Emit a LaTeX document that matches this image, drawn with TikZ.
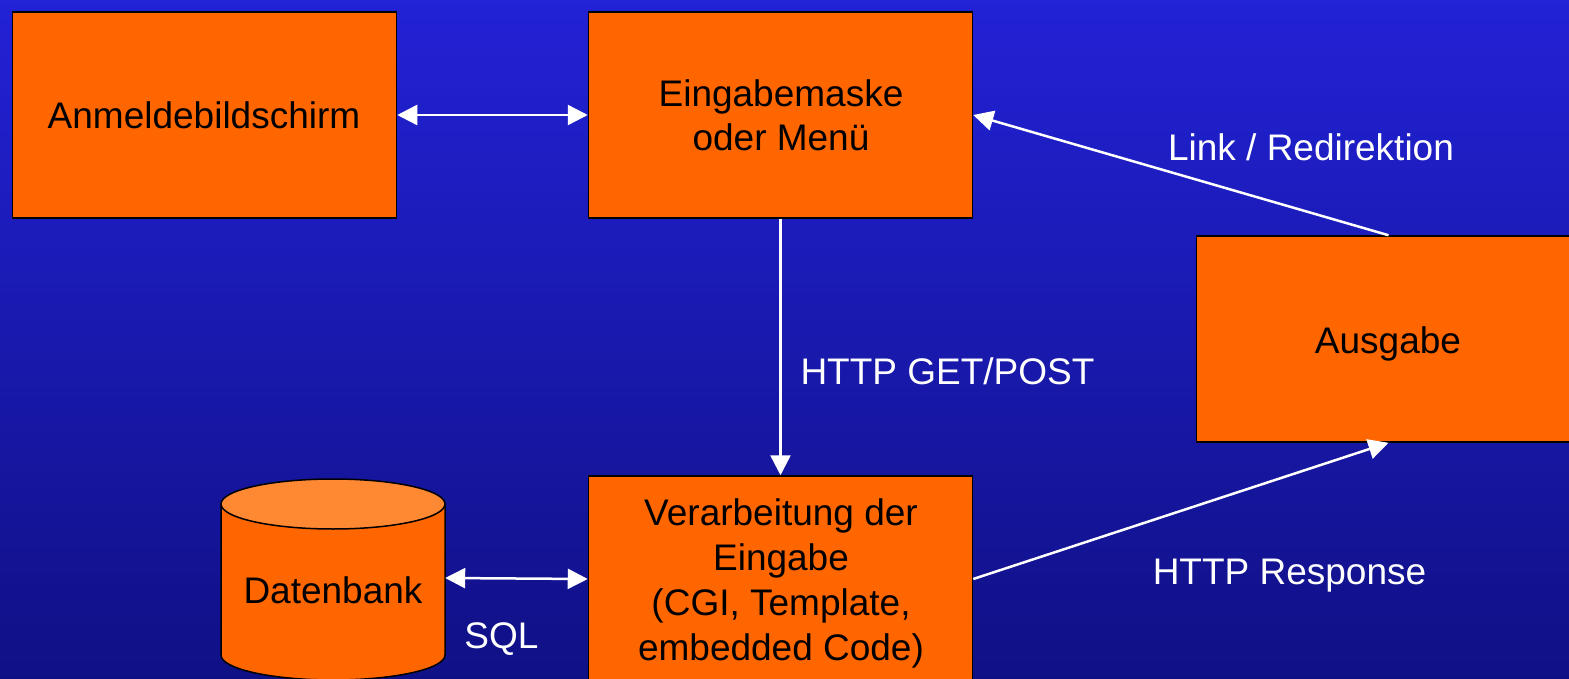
\documentclass[tikz,border=0pt]{standalone}
\usepackage{fontspec}
\setmainfont{Liberation Sans}
\usetikzlibrary{arrows.meta}
\definecolor{bgtop}{RGB}{34,34,214}
\definecolor{bgbot}{RGB}{16,16,134}
\definecolor{boxorange}{RGB}{255,102,0}
\definecolor{cyltop}{RGB}{255,136,51}
\begin{document}
\begin{tikzpicture}[x=1pt,y=-1pt,
  every node/.style={font=\fontsize{37}{44}\selectfont},
  box/.style={draw=black, line width=1.5pt, fill=boxorange, minimum width=384pt, minimum height=206pt, inner sep=0pt},
  btext/.style={text=black, anchor=base, inner sep=0pt},
  lbl/.style={text=white, anchor=base, inner sep=0pt},
  tip/.tip={Triangle[length=20pt,width=20pt]},
  conn/.style={draw=white, line width=2.5pt, -tip},
  biconn/.style={draw=white, line width=2.5pt, tip-tip}]
\useasboundingbox (0,0) rectangle (1569,679);
\clip (0,0) rectangle (1569,679);
\shade[top color=bgtop, bottom color=bgbot] (0,0) rectangle (1569,679);

% boxes
\node[box] (anm) at (204.5,115) {};
\node[box] (eing) at (780.5,115) {};
\node[box] (ausg) at (1388.5,339) {};
\node[box] (verarb) at (780.5,579) {};

% database cylinder
\draw[line width=1.5pt, fill=boxorange] (221,504) -- (221,655)
  arc[start angle=180, end angle=360, x radius=112pt, y radius=25pt] -- (445,504) -- cycle;
\draw[line width=1.5pt, fill=cyltop] (333,504) ellipse [x radius=112pt, y radius=25pt];
\node[minimum width=224pt, minimum height=150pt, inner sep=0pt] (db) at (333,578) {};

% box texts
\node[btext] (tanm) at (204,129) {Anmeldebildschirm};
\node[btext] (teing1) at (781,107) {Eingabemaske};
\node[btext] (teing2) at (781,151) {oder Menü};
\node[btext] (tausg) at (1388,353) {Ausgabe};
\node[btext] (tdb) at (333,603) {Datenbank};
\node[btext] (tv1) at (781,525) {Verarbeitung der};
\node[btext] (tv2) at (781,570) {Eingabe};
\node[btext] (tv3) at (781,615) {(CGI, Template,};
\node[btext] (tv4) at (781,660) {embedded Code)};

% connectors
\draw[biconn] (anm.east) -- (eing.west);
\draw[conn] (eing.south) -- (verarb.north);
\draw[biconn] (db.east) -- (verarb.west);
\draw[conn] (verarb.east) -- (ausg.south);
\draw[conn] (ausg.north) -- (eing.east);

% labels
\node[lbl] (llink) at (1311,161) {Link / Redirektion};
\node[lbl] (lget) at (947.5,384) {HTTP GET/POST};
\node[lbl] (lresp) at (1289.5,584) {HTTP Response};
\node[lbl] (lsql) at (501.5,648) {SQL};
\end{tikzpicture}
\end{document}
